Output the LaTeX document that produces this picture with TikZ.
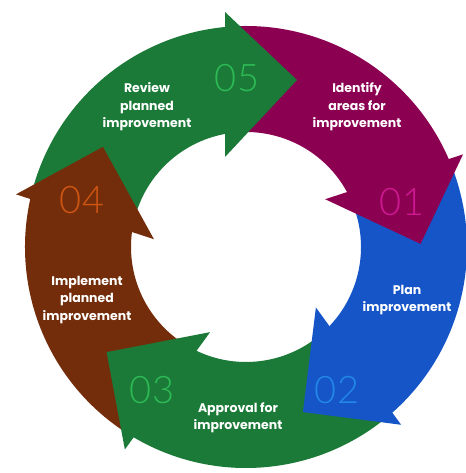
\documentclass[tikz,border=0pt]{standalone}
\usepackage{fontspec}
\newfontfamily\labfont{Poppins}
\newfontfamily\numfont{Lato}[UprightFont={* Light}]
\definecolor{gband}{RGB}{27,122,55}
\definecolor{pband}{RGB}{140,0,82}
\definecolor{bband}{RGB}{22,85,200}
\definecolor{rband}{RGB}{115,45,10}
\definecolor{gnum}{RGB}{45,185,85}
\definecolor{pnum}{RGB}{205,25,145}
\definecolor{bnum}{RGB}{35,135,230}
\definecolor{rnum}{RGB}{205,85,20}
\tikzset{
  lbl/.style={text=white, align=center, inner sep=0pt,
    font=\labfont\bfseries\fontsize{12.5}{17.5}\selectfont},
  num/.style={inner sep=0pt, font=\numfont\fontsize{38}{38}\selectfont},
}
\newcommand\ringband[3]{%
  \fill[#3] ([shift={(#1:221)}]C) arc[start angle=#1, end angle=#2, radius=221]
    -- ([shift={(#2:115)}]C) arc[start angle=#2, end angle=#1, radius=115] -- cycle;}
\newcommand\ringhead[2]{%
  \begin{scope}[shift={(C)}, rotate=#1]
    \fill[#2] (-21,235) -- (51,167) -- (-21,90) -- cycle;
  \end{scope}}
\begin{document}
\begin{tikzpicture}[x=1pt,y=1pt]
\useasboundingbox (0,0) rectangle (465,473);
\fill[white] (0,0) rectangle (465,473);
\coordinate (C) at (246,226);
% bands
\ringband{167}{95}{gband}
\ringband{95}{23}{pband}
\ringband{23}{-49}{bband}
\ringband{-49}{-121}{gband}
\ringband{-121}{-193}{rband}
% arrow heads
\ringhead{0}{gband}
\ringhead{-72}{pband}
\ringhead{-144}{bband}
\ringhead{-216}{gband}
\ringhead{-288}{rband}
% numbers
\node[num, text=gnum] (n05) at (237,395) {05};
\node[num, text=pnum] (n01) at (402,271) {01};
\node[num, text=bnum] (n02) at (337,83) {02};
\node[num, text=gnum] (n03) at (152,83) {03};
\node[num, text=rnum] (n04) at (82,273) {04};
% labels
\node[lbl] (l05) at (147,366) {Review\\planned\\improvement};
\node[lbl] (l01) at (357,366) {Identify\\areas for\\improvement};
\node[lbl] (l02) at (407,173) {Plan\\improvement};
\node[lbl] (l03) at (238,55) {Approval for\\improvement};
\node[lbl] (l04) at (87,173) {Implement\\planned\\improvement};
\end{tikzpicture}
\end{document}
